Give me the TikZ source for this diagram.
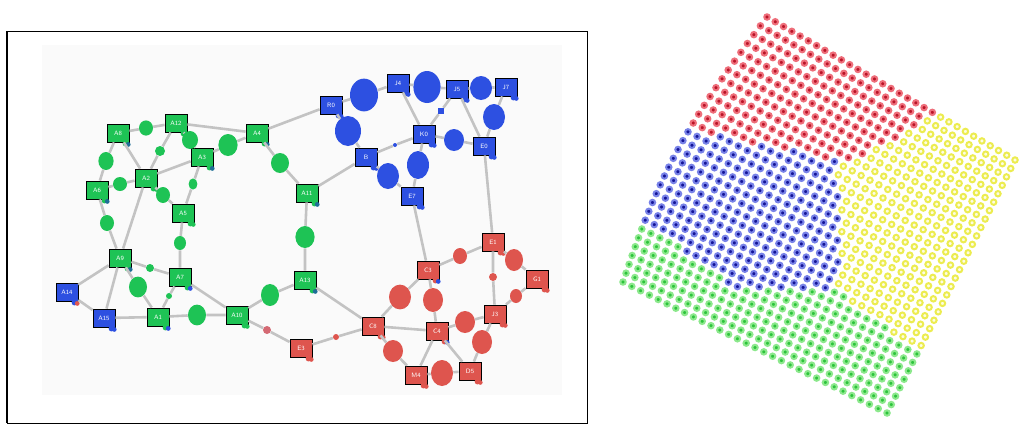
\documentclass[tikz,border=0pt]{standalone}
\usepackage{xcolor}
\usepackage{tikz}
\usetikzlibrary{shapes.geometric}
\definecolor{gnode}{RGB}{30,195,85}
\definecolor{bnode}{RGB}{45,80,225}
\definecolor{rnode}{RGB}{222,85,78}
\definecolor{pinknode}{RGB}{212,105,115}
\definecolor{tealacc}{RGB}{30,110,150}
\definecolor{linkgray}{RGB}{195,195,195}
\definecolor{panelbg}{RGB}{250,250,250}
\definecolor{dotf1}{RGB}{185,20,40}
\definecolor{dotd1}{RGB}{238,110,122}
\definecolor{dotf2}{RGB}{20,20,150}
\definecolor{dotd2}{RGB}{120,130,232}
\definecolor{dotf3}{RGB}{253,253,225}
\definecolor{dotd3}{RGB}{236,236,80}
\definecolor{dotf4}{RGB}{45,195,60}
\definecolor{dotd4}{RGB}{140,232,140}
\tikzstyle{sq} = [rectangle, draw=black, line width=0.6pt, minimum width=0.55cm, minimum height=0.45cm, inner sep=0pt, text=white, font=\fontsize{4.5}{5}\selectfont\sffamily]
\tikzstyle{gsq} = [sq, fill=gnode]
\tikzstyle{bsq} = [sq, fill=bnode]
\tikzstyle{rsq} = [sq, fill=rnode]
\tikzstyle{gblob} = [ellipse, fill=gnode, inner sep=0pt]
\tikzstyle{bblob} = [ellipse, fill=bnode, inner sep=0pt]
\tikzstyle{rblob} = [ellipse, fill=rnode, inner sep=0pt]
\tikzstyle{link} = [draw=linkgray, line width=0.065cm]
\begin{document}
\begin{tikzpicture}[x=0.025cm, y=-0.025cm]
\useasboundingbox (0,0) rectangle (1020,424);

% left panel
\fill [panelbg] (42,45) rectangle (562,395);
\draw [line width=0.5pt] (7,31) rectangle (587,423);
\draw [line width=1.2pt] (7,31) -- (7,423);

% green part
\node [gsq] (a8) at (118,133) {A8};
\node [gsq] (a12) at (176,123) {A12};
\node [gsq] (a4) at (257,133) {A4};
\node [gsq] (a3) at (202,157) {A3};
\node [gsq] (a2) at (146,178) {A2};
\node [gsq] (a6) at (97,190) {A6};
\node [gsq] (a5) at (183,213) {A5};
\node [gsq] (a11) at (307,193) {A11};
\node [gsq] (a9) at (120,258) {A9};
\node [gsq] (a7) at (180,277) {A7};
\node [gsq] (a1) at (158,317) {A1};
\node [gsq] (a10) at (237,315) {A10};
\node [gsq] (a13) at (305,280) {A13};
\node [bsq] (a14) at (67,292) {A14};
\node [bsq] (a15) at (104,318) {A15};

\node [gblob, minimum width=0.35cm, minimum height=0.38cm] (gc1) at (146,128) {};
\node [gblob, minimum size=0.25cm] (gc2) at (160,151) {};
\node [gblob, minimum width=0.4cm, minimum height=0.45cm] (gc3) at (190,140) {};
\node [gblob, minimum width=0.48cm, minimum height=0.55cm] (gc4) at (228,145) {};
\node [gblob, minimum width=0.38cm, minimum height=0.45cm] (gc5) at (106,161) {};
\node [gblob, minimum size=0.35cm] (gc6) at (120,184) {};
\node [gblob, minimum width=0.35cm, minimum height=0.4cm] (gc7) at (163,195) {};
\node [gblob, minimum width=0.22cm, minimum height=0.28cm] (gc8) at (193,184) {};
\node [gblob, minimum width=0.35cm, minimum height=0.4cm] (gc9) at (107,223) {};
\node [gblob, minimum width=0.3cm, minimum height=0.35cm] (gc10) at (180,243) {};
\node [gblob, minimum width=0.45cm, minimum height=0.5cm] (gc11) at (280,163) {};
\node [gblob, minimum width=0.48cm, minimum height=0.55cm] (gc12) at (305,237) {};
\node [gblob, minimum width=0.45cm, minimum height=0.52cm] (gc13) at (138,287) {};
\node [gblob, minimum width=0.45cm, minimum height=0.52cm] (gc14) at (197,315) {};
\node [gblob, minimum width=0.45cm, minimum height=0.55cm] (gc15) at (270,295) {};
\node [gblob, minimum size=0.2cm] (gc16) at (150,268) {};
\node [gblob, minimum size=0.15cm] (gc17) at (169,296) {};

% blue part
\node [bsq] (r0) at (331,105) {R0};
\node [bsq] (j4) at (398,83) {J4};
\node [bsq] (j5) at (457,89) {J5};
\node [bsq] (j7) at (506,87) {J7};
\node [bsq] (k0) at (424,134) {K0};
\node [bsq] (e0) at (484,146) {E0};
\node [bsq] (b8) at (366,157) {B};
\node [bsq] (e7) at (412,196) {E7};

\node [bblob, minimum width=0.7cm, minimum height=0.82cm] (bc1) at (364,95) {};
\node [bblob, minimum width=0.68cm, minimum height=0.8cm] (bc2) at (427,87) {};
\node [bblob, minimum width=0.55cm, minimum height=0.6cm] (bc3) at (481,88) {};
\node [bblob, minimum width=0.55cm, minimum height=0.65cm] (bc4) at (494,117) {};
\node [bblob, minimum width=0.65cm, minimum height=0.75cm] (bc5) at (348,131) {};
\node [bblob, minimum width=0.5cm, minimum height=0.55cm] (bc6) at (454,140) {};
\node [bblob, minimum width=0.55cm, minimum height=0.7cm] (bc7) at (418,165) {};
\node [bblob, minimum width=0.55cm, minimum height=0.65cm] (bc8) at (388,176) {};
\node [rectangle, fill=bnode, inner sep=0pt, minimum size=0.15cm] (bc9) at (441,111) {};
\node [bblob, minimum size=0.1cm] (bc10) at (395,145) {};

% red part
\node [rsq] (sc3) at (428,270) {C3};
\node [rsq] (se1) at (493,242) {E1};
\node [rsq] (sg1) at (537,279) {G1};
\node [rsq] (sj3) at (495,314) {J3};
\node [rsq] (sc8) at (373,326) {C8};
\node [rsq] (sc4) at (437,331) {C4};
\node [rsq] (sm4) at (416,375) {M4};
\node [rsq] (sd5) at (470,371) {D5};
\node [rsq] (se3) at (301,348) {E3};

\node [ellipse, fill=pinknode, inner sep=0pt, minimum size=0.2cm] (rc0) at (267,330) {};
\node [rblob, minimum width=0.35cm, minimum height=0.4cm] (rc1) at (460,256) {};
\node [rblob, minimum width=0.45cm, minimum height=0.55cm] (rc2) at (514,260) {};
\node [rblob, minimum size=0.2cm] (rc3) at (493,277) {};
\node [rblob, minimum width=0.3cm, minimum height=0.35cm] (rc4) at (516,296) {};
\node [rblob, minimum width=0.55cm, minimum height=0.62cm] (rc5) at (400,297) {};
\node [rblob, minimum width=0.5cm, minimum height=0.6cm] (rc6) at (433,300) {};
\node [rblob, minimum width=0.5cm, minimum height=0.55cm] (rc7) at (465,322) {};
\node [rblob, minimum width=0.5cm, minimum height=0.6cm] (rc8) at (482,342) {};
\node [rblob, minimum width=0.5cm, minimum height=0.55cm] (rc9) at (393,351) {};
\node [rblob, minimum width=0.55cm, minimum height=0.65cm] (rc10) at (442,373) {};
\node [rblob, minimum size=0.15cm] (rc11) at (336,337) {};

% tails of the square nodes
\foreach \n/\f/\c in {a8/gnode/tealacc, a12/gnode/gnode, a4/gnode/tealacc, a3/gnode/tealacc, a2/gnode/gnode, a6/gnode/tealacc, a5/gnode/gnode, a11/gnode/tealacc, a9/gnode/tealacc, a7/gnode/bnode, a1/gnode/bnode, a10/gnode/gnode, a13/gnode/tealacc, a14/bnode/rnode, a15/bnode/bnode, r0/bnode/bnode, j4/bnode/bnode, j5/bnode/bnode, j7/bnode/bnode, k0/bnode/bnode, e0/bnode/bnode, b8/bnode/bnode, e7/bnode/bnode, sc3/rnode/bnode, se1/rnode/rnode, sg1/rnode/rnode, sj3/rnode/rnode, sc8/rnode/rnode, sc4/rnode/bnode, sm4/rnode/rnode, sd5/rnode/rnode, se3/rnode/rnode}{
  \fill [fill=\f] ([xshift=-0.1cm, yshift=-0.03cm]\n.south east) circle (0.07cm);
  \fill [fill=\c] ([xshift=-0.03cm, yshift=-0.05cm]\n.south east) circle (0.06cm);
}

% links
\path [link] (a8) -- (gc1) -- (a12);
\path [link] (a12) -- (a4);
\path [link] (a8) -- (gc5) -- (a6);
\path [link] (a8) -- (a2);
\path [link] (a12) -- (gc2) -- (a2);
\path [link] (a12) -- (gc3) -- (a3);
\path [link] (a3) -- (gc4) -- (a4);
\path [link] (a2) -- (a3);
\path [link] (a6) -- (gc6) -- (a2);
\path [link] (a2) -- (gc7) -- (a5);
\path [link] (a3) -- (gc8) -- (a5);
\path [link] (a5) -- (gc10) -- (a7);
\path [link] (a6) -- (gc9) -- (a9);
\path [link] (a2) -- (a9);
\path [link] (a4) -- (gc11) -- (a11);
\path [link] (a11) -- (gc12) -- (a13);
\path [link] (a9) -- (a14);
\path [link] (a9) -- (a15);
\path [link] (a14) -- (a15);
\path [link] (a9) -- (gc16) -- (a7);
\path [link] (a9) -- (gc13) -- (a1);
\path [link] (a15) -- (a1);
\path [link] (a1) -- (gc14) -- (a10);
\path [link] (a7) -- (gc17) -- (a1);
\path [link] (a7) -- (a10);
\path [link] (a10) -- (gc15) -- (a13);
\path [link] (a10) -- (rc0) -- (se3);
\path [link] (a4) -- (r0);
\path [link] (a11) -- (b8);
\path [link] (a13) -- (sc8);

\path [link] (r0) -- (bc1) -- (j4);
\path [link] (r0) -- (bc5) -- (b8);
\path [link] (j4) -- (bc2) -- (j5);
\path [link] (j4) -- (k0);
\path [link] (j5) -- (bc9) -- (k0);
\path [link] (j5) -- (bc3) -- (j7);
\path [link] (j5) -- (e0);
\path [link] (j7) -- (bc4) -- (e0);
\path [link] (k0) -- (bc6) -- (e0);
\path [link] (b8) -- (bc10) -- (k0);
\path [link] (b8) -- (bc8) -- (e7);
\path [link] (k0) -- (bc7) -- (e7);
\path [link] (e7) -- (sc3);
\path [link] (e0) -- (se1);

\path [link] (sc3) -- (rc1) -- (se1);
\path [link] (se1) -- (rc2) -- (sg1);
\path [link] (se1) -- (rc3) -- (sj3);
\path [link] (sg1) -- (rc4) -- (sj3);
\path [link] (sc3) -- (rc5) -- (sc8);
\path [link] (sc3) -- (rc6) -- (sc4);
\path [link] (sc8) -- (sc4);
\path [link] (sc4) -- (rc7) -- (sj3);
\path [link] (sj3) -- (rc8) -- (sd5);
\path [link] (sc4) -- (sd5);
\path [link] (sc4) -- (sm4);
\path [link] (sc8) -- (rc9) -- (sm4);
\path [link] (sm4) -- (rc10) -- (sd5);
\path [link] (se3) -- (rc11) -- (sc8);

% right panel: partitioned grid
\foreach \i in {0,...,30}{
  \foreach \j in {0,...,30}{
    \pgfmathsetmacro\px{767+\i*8.267-\j*4.8+\i*\j*0.01778-17*sin(6*\j)*(1-\i/30)}
    \pgfmathsetmacro\py{17+\i*4.767+\j*8.833-\i*\j*0.01333}
    \pgfmathsetmacro\rb{(\px<840) ? (128+(\px-683)*0.204) : (165-(\px-845)*0.54)}
    \pgfmathsetmacro\gy{(\px<737) ? (223+(\px-646)*0.736) : ((\px<838) ? 290 : (292+(\px-840)*0.753))}
    \pgfmathtruncatemacro\zone{(\py<\rb) ? 1 : ((\py>\gy) ? 4 : ((\px<838) ? 2 : 3))}
    \filldraw [fill=dotf\zone, draw=dotd\zone, line width=0.05cm] (\px,\py) circle [radius=0.068cm];
  }
}

\end{tikzpicture}
\end{document}
